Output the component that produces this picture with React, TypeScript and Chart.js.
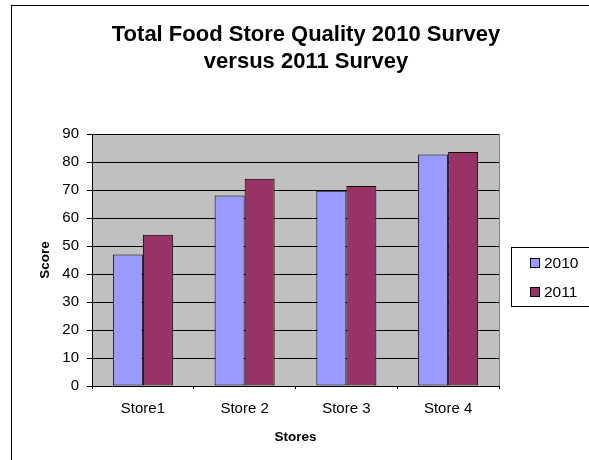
import React, { useEffect, useRef } from "react";
import { Chart, registerables } from "chart.js";

Chart.register(...registerables);

const categories = ["Store1", "Store 2", "Store 3", "Store 4"];
const seriesNames = ["2010", "2011"];
const values2010 = [47, 68, 69.7, 82.7];
const values2011 = [54, 74, 71.4, 83.6];
const seriesColors = ["#9999FF", "#993366"];
const titleLines = ["Total Food Store Quality 2010 Survey", "versus 2011 Survey"];
const xAxisTitle = "Stores";
const yAxisTitle = "Score";
const yMin = 0;
const yMax = 90;
const yStep = 10;

const FONT = '"Liberation Sans", Arial, Helvetica, sans-serif';

const framePlugin = {
  id: "framePlugin",
  beforeDraw(chart: any) {
    const { ctx, chartArea } = chart;
    ctx.save();
    ctx.fillStyle = "#ffffff";
    ctx.fillRect(0, 0, chart.width, chart.height);
    // outer chart border
    ctx.strokeStyle = "#000000";
    ctx.lineWidth = 1;
    ctx.strokeRect(11.5, 5.5, 1000, 1000);
    // plot background
    ctx.fillStyle = "#C0C0C0";
    ctx.fillRect(chartArea.left, chartArea.top, chartArea.right - chartArea.left, chartArea.bottom - chartArea.top);
    ctx.restore();
  },
  afterDatasetsDraw(chart: any) {
    const { ctx, chartArea } = chart;
    ctx.save();
    ctx.strokeStyle = "#808080";
    ctx.lineWidth = 1;
    ctx.beginPath();
    ctx.moveTo(Math.round(chartArea.right) + 0.5, chartArea.top);
    ctx.lineTo(Math.round(chartArea.right) + 0.5, chartArea.bottom);
    ctx.stroke();
    ctx.restore();
  },
  afterDraw(chart: any) {
    const { ctx } = chart;
    ctx.save();
    // title
    ctx.fillStyle = "#000000";
    ctx.font = `bold 22px ${FONT}`;
    ctx.textAlign = "center";
    ctx.textBaseline = "alphabetic";
    ctx.fillText(titleLines[0], 306, 41);
    ctx.fillText(titleLines[1], 306, 68);

    // legend
    ctx.strokeStyle = "#000000";
    ctx.lineWidth = 1;
    ctx.strokeRect(511.5, 247.5, 200, 59);
    ctx.font = `15.5px ${FONT}`;
    ctx.textAlign = "left";
    chart.data.datasets.forEach((ds: any, i: number) => {
      const y = 258 + i * 29;
      ctx.fillStyle = ds.backgroundColor;
      ctx.fillRect(530, y, 10, 10);
      ctx.strokeStyle = "#000000";
      ctx.strokeRect(530.5, y + 0.5, 9, 9);
      ctx.fillStyle = "#000000";
      ctx.fillText(ds.label, 544, y + 10);
    });
    ctx.restore();
  },
};

export default function App() {
  const canvasRef = useRef<HTMLCanvasElement | null>(null);

  useEffect(() => {
    const canvas = canvasRef.current;
    if (!canvas) return;
    const chart = new Chart(canvas, {
      type: "bar",
      data: {
        labels: categories,
        datasets: [
          {
            label: seriesNames[0],
            data: values2010,
            backgroundColor: seriesColors[0],
            borderColor: "#000000",
            borderWidth: 1,
            borderSkipped: false,
            categoryPercentage: 0.59,
            barPercentage: 1,
          },
          {
            label: seriesNames[1],
            data: values2011,
            backgroundColor: seriesColors[1],
            borderColor: "#000000",
            borderWidth: 1,
            borderSkipped: false,
            categoryPercentage: 0.59,
            barPercentage: 1,
          },
        ],
      },
      options: {
        responsive: false,
        animation: false,
        devicePixelRatio: 1,
        layout: { padding: { top: 134, left: 0, right: 90, bottom: 0 } },
        plugins: {
          legend: { display: false },
          title: { display: false },
          tooltip: { enabled: false },
        },
        scales: {
          x: {
            afterFit(scale: any) {
              scale.height = 74;
            },
            grid: {
              offset: true,
              drawOnChartArea: false,
              drawTicks: true,
              tickLength: 3,
              color: "#000000",
              tickColor: "#000000",
            },
            border: { display: true, color: "#000000", width: 1 },
            ticks: {
              color: "#000000",
              font: { family: FONT, size: 15 },
              padding: 11,
              maxRotation: 0,
            },
            title: {
              display: true,
              text: xAxisTitle,
              color: "#000000",
              font: { family: FONT, size: 13.5, weight: "bold" },
              padding: { top: 0, bottom: 15 },
            },
          },
          y: {
            min: yMin,
            max: yMax,
            afterFit(scale: any) {
              scale.width = 92;
            },
            grid: {
              color: "#000000",
              tickColor: "#000000",
              drawTicks: true,
              tickLength: 5,
              lineWidth: 1,
            },
            border: { display: true, color: "#000000", width: 1 },
            ticks: {
              stepSize: yStep,
              color: "#000000",
              font: { family: FONT, size: 15 },
              padding: 8,
            },
            title: {
              display: true,
              text: yAxisTitle,
              color: "#000000",
              font: { family: FONT, size: 13.5, weight: "bold" },
              padding: { top: 37, bottom: 0 },
            },
          },
        },
      },
      plugins: [framePlugin],
    } as any);
    return () => chart.destroy();
  }, []);

  return (
    <div style={{ position: "fixed", left: 0, top: 0, width: 589, height: 460, overflow: "hidden", background: "#fff" }}>
      <canvas ref={canvasRef} width={589} height={460} style={{ display: "block", width: 589, height: 460 }} />
    </div>
  );
}
